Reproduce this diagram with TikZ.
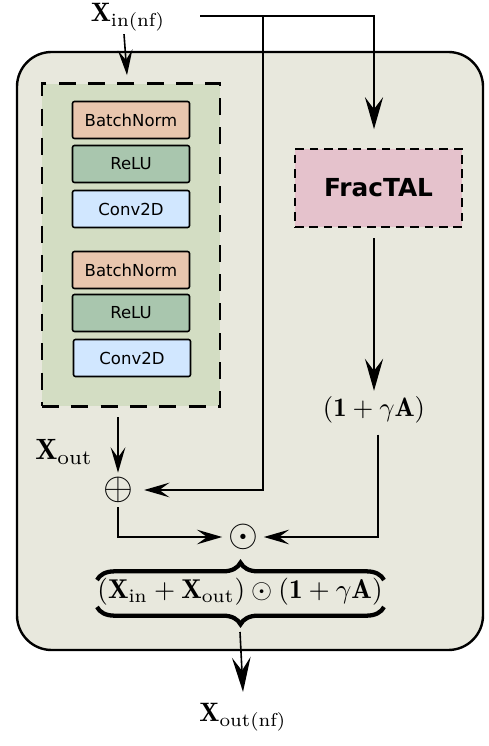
\documentclass[tikz,border=0pt]{standalone}
\usepackage{amsmath}
\usepackage{fontspec}
\newfontfamily\dejavu{DejaVu Sans}
\usetikzlibrary{arrows.meta,decorations.pathreplacing}
\definecolor{outerbg}{HTML}{E8E8DD}
\definecolor{greenbg}{HTML}{D3DDC3}
\definecolor{bncol}{HTML}{E8C6AE}
\definecolor{relucol}{HTML}{A9C6AE}
\definecolor{convcol}{HTML}{D1E7FF}
\definecolor{fraccol}{HTML}{E5C2CC}
\begin{document}
\begin{tikzpicture}[x=0.375pt,y=-0.375pt,
  conn/.style={line width=0.6pt},
  arr/.style={conn,-{Stealth[length=9.5pt,width=5.5pt,inset=3.8pt]}},
  bigarr/.style={conn,-{Stealth[length=12pt,width=6.8pt,inset=4.5pt]}},
  layer/.style={draw,line width=0.6pt,rounded corners=0.8pt,minimum width=43.9pt,minimum height=13.9pt,inner sep=0pt,font=\dejavu\fontsize{6.2}{7}\selectfont},
  bn/.style={layer,fill=bncol},
  relu/.style={layer,fill=relucol},
  conv/.style={layer,fill=convcol},
  lbl/.style={inner sep=1pt},
  brc/.style={decorate,decoration={brace,amplitude=6.5pt},line width=1.6pt}
]
\useasboundingbox (0,0) rectangle (488,746);
% outer block
\node[draw,line width=0.9pt,fill=outerbg,rounded corners=13pt,minimum width=174.75pt,minimum height=224.25pt,inner sep=0pt] (outer) at (250,351) {};
% green residual block
\node[draw,line width=1.1pt,dash pattern=on 6.4pt off 4.6pt,fill=greenbg,minimum width=66.75pt,minimum height=121.1pt,inner sep=0pt] (gbox) at (131,245) {};
\node[bn]   (bn1) at (131,120) {BatchNorm};
\node[relu] (re1) at (131,164) {ReLU};
\node[conv] (cv1) at (131,209) {Conv2D};
\node[bn]   (bn2) at (131,270) {BatchNorm};
\node[relu] (re2) at (131,313) {ReLU};
\node[conv] (cv2) at (132,358) {Conv2D};
% FracTAL
\node[draw,line width=0.9pt,dash pattern=on 3.2pt off 2.2pt,fill=fraccol,minimum width=62.6pt,minimum height=29.25pt,inner sep=0pt,font=\dejavu\bfseries\fontsize{9.3}{10}\selectfont] (frac) at (378.5,188) {FracTAL};
% labels
\node[lbl] (xin) at (128,17) {$\mathbf{X}_{\mathrm{in(nf)}}$};
\node[lbl] (ga) at (374,410) {$(\mathbf{1}+\gamma\mathbf{A})$};
\node[lbl,scale=1.1] (xout) at (64,452) {$\mathbf{X}_{\mathrm{out}}$};
\node[inner sep=0pt,font=\Large] (oplus) at (118,490) {$\oplus$};
\node[inner sep=0pt,font=\Large] (odot) at (243,537) {$\odot$};
\node[lbl,scale=1.02] (expr) at (240,592) {$(\mathbf{X}_{\mathrm{in}}+\mathbf{X}_{\mathrm{out}})\odot(\mathbf{1}+\gamma\mathbf{A})$};
\node[lbl] (xo) at (243,717) {$\mathbf{X}_{\mathrm{out(nf)}}$};
% coordinates
\coordinate (t0) at (200,16);
\coordinate (t1) at (263,16);
\coordinate (t2) at (374,16);
\coordinate (bl) at (97,580);
\coordinate (br) at (384,580);
\coordinate (bl2) at (97,607);
\coordinate (br2) at (384,607);
\coordinate (btip) at (240,632);
% connectors
\draw[arr] ([xshift=-1.5pt]xin.south) -- ([xshift=-1.5pt,yshift=2.6pt]gbox.north);
\draw[conn] (t0) -- (t1);
\draw[bigarr] (t1) -- (t2) -- ([yshift=7pt]frac.north -| t2);
\draw[arr] (t1) |- ([xshift=4pt]oplus.east);
\draw[bigarr] ([yshift=-3.8pt]frac.south -| t2) -- ([yshift=1pt]ga.north -| t2);
\draw[arr] ([yshift=-3.5pt]gbox.south -| oplus) -- ([yshift=1.5pt]oplus.north);
\draw[arr] ([yshift=-1.5pt]oplus.south) |- ([xshift=-2pt]odot.west);
\draw[arr] ([xshift=1.5pt,yshift=-3pt]ga.south) |- ([xshift=2pt]odot.east);
\draw[brc] (bl) -- (br);
\draw[brc] (br2) -- (bl2);
\draw[conn,-{Stealth[length=13pt,width=7pt,inset=5pt]}] (btip) -- ([yshift=3pt]xo.north);
\end{tikzpicture}
\end{document}
